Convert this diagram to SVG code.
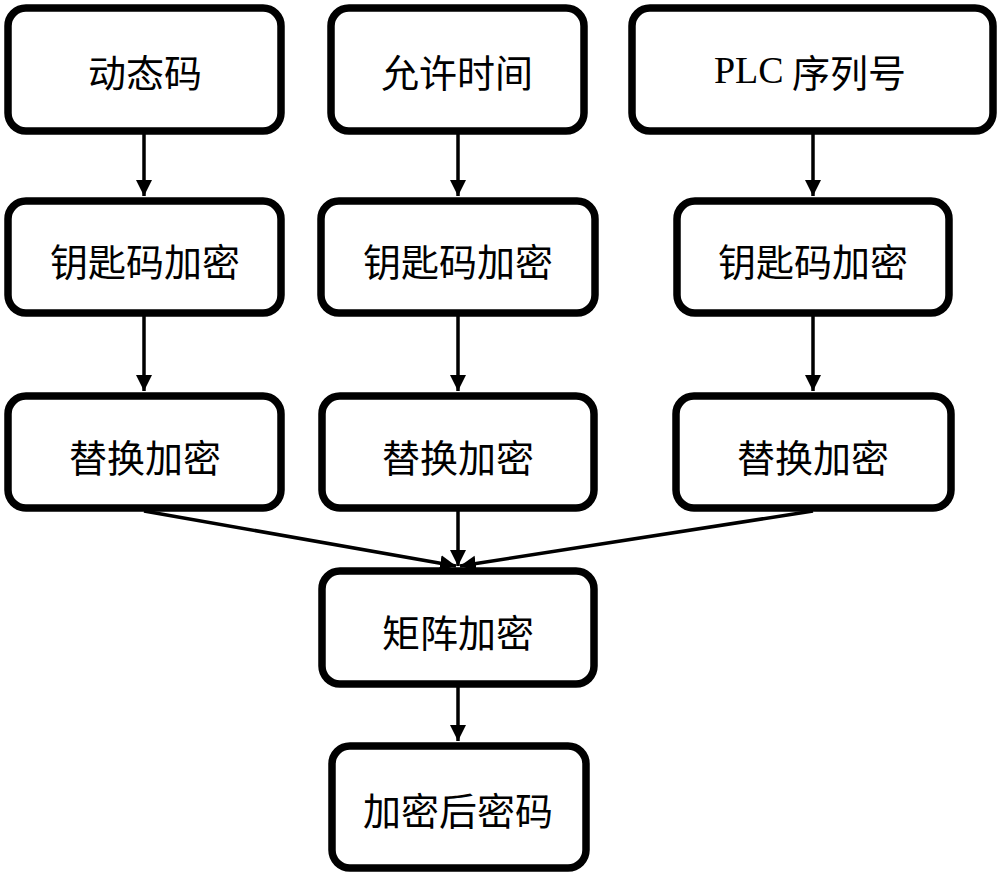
<svg xmlns="http://www.w3.org/2000/svg" width="1000" height="877" viewBox="0 0 1000 877">
<style>
.box{fill:#fff;stroke:#000;stroke-width:7.5}
.t{font-family:"Noto Sans CJK SC","Noto Sans CJK JP",sans-serif;font-size:38px;fill:#000;text-anchor:middle;dominant-baseline:central}
.lat{font-family:"Liberation Serif",serif}
.c{stroke:#000;stroke-width:3.5;fill:none;marker-end:url(#ah)}
</style>
<defs>
<marker id="ah" markerUnits="userSpaceOnUse" markerWidth="18" markerHeight="18" refX="16" refY="8" orient="auto">
<path d="M0,0 L16,8 L0,16 Z" fill="#000"/>
</marker>
</defs>
<rect width="1000" height="877" fill="#fff"/>
<g id="connectors">
<line class="c" x1="144" y1="131" x2="144" y2="196"/>
<line class="c" x1="458" y1="131" x2="458" y2="196"/>
<line class="c" x1="813" y1="131" x2="813" y2="196"/>
<line class="c" x1="144" y1="313" x2="144" y2="391"/>
<line class="c" x1="458" y1="313" x2="458" y2="391"/>
<line class="c" x1="813" y1="313" x2="813" y2="391"/>
<line class="c" x1="144" y1="511" x2="456" y2="566"/>
<line class="c" x1="458" y1="508" x2="458" y2="566"/>
<line class="c" x1="813" y1="511" x2="460" y2="566"/>
<line class="c" x1="458" y1="684" x2="458" y2="741"/>
</g>
<g id="n1"><rect class="box" x="8" y="8" width="273" height="123" rx="18"/><text class="t" x="145" y="70">动态码</text></g>
<g id="n2"><rect class="box" x="331" y="8" width="253" height="123" rx="18"/><text class="t" x="457" y="70">允许时间</text></g>
<g id="n3"><rect class="box" x="632" y="8" width="361" height="123" rx="18"/><text class="t" x="810" y="70"><tspan class="lat">PLC</tspan> 序列号</text></g>
<g id="n4"><rect class="box" x="8" y="201" width="273" height="112" rx="18"/><text class="t" x="145" y="259">钥匙码加密</text></g>
<g id="n5"><rect class="box" x="321" y="201" width="274" height="112" rx="18"/><text class="t" x="458" y="259">钥匙码加密</text></g>
<g id="n6"><rect class="box" x="677" y="201" width="272" height="112" rx="18"/><text class="t" x="813" y="259">钥匙码加密</text></g>
<g id="n7"><rect class="box" x="8" y="396" width="273" height="112" rx="18"/><text class="t" x="145" y="455">替换加密</text></g>
<g id="n8"><rect class="box" x="322" y="396" width="272" height="112" rx="18"/><text class="t" x="458" y="455">替换加密</text></g>
<g id="n9"><rect class="box" x="676" y="396" width="275" height="112" rx="18"/><text class="t" x="813" y="455">替换加密</text></g>
<g id="n10"><rect class="box" x="322" y="571" width="272" height="113" rx="18"/><text class="t" x="458" y="630">矩阵加密</text></g>
<g id="n11"><rect class="box" x="332" y="746" width="254" height="122" rx="18"/><text class="t" x="458" y="808">加密后密码</text></g>
</svg>
